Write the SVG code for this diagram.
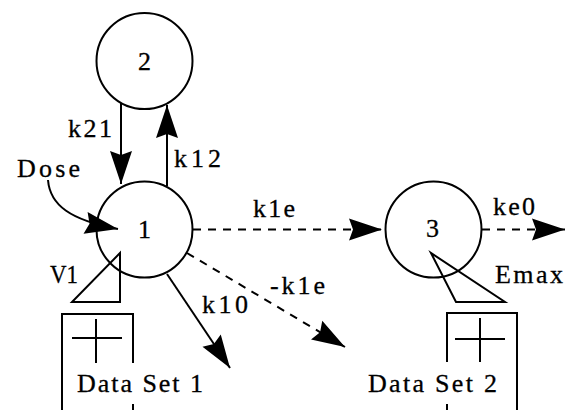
<svg xmlns="http://www.w3.org/2000/svg" width="566" height="410" viewBox="0 0 566 410">
  <style>
    .ln { fill: none; stroke: #000; stroke-width: 2; }
    .dash { stroke-dasharray: 8 7; }
    .node { fill: #fff; stroke: #000; stroke-width: 2; }
    text { font-family: "Liberation Serif", "Times New Roman", "DejaVu Serif", serif; font-size: 26px; fill: #000; stroke: #000; stroke-width: 0.3; }
    .num { text-anchor: middle; font-size: 26px; }
  </style>
  <defs>
    <marker id="ah" markerUnits="userSpaceOnUse" markerWidth="40" markerHeight="26" viewBox="-36 -13 38 26" refX="0" refY="0" orient="auto">
      <path d="M0,0 L-33,-11 L-29,0 L-33,11 Z" fill="#000" stroke="none"/>
    </marker>
  </defs>
  <rect width="566" height="410" fill="#fff"/>

  <g id="node2">
    <circle class="node" cx="144.5" cy="61" r="48"/>
    <text class="num" x="144.5" y="70">2</text>
  </g>
  <g id="node1">
    <circle class="node" cx="144.5" cy="229.5" r="48"/>
    <text class="num" x="144.5" y="238">1</text>
  </g>
  <g id="node3">
    <circle class="node" cx="433.5" cy="229.5" r="48"/>
    <text class="num" x="432.5" y="237">3</text>
  </g>

  <g id="v1">
    <path class="ln" d="M120,253 L120,302 L72,302 Z"/>
    <text x="50" y="283" textLength="28" lengthAdjust="spacingAndGlyphs">V1</text>
  </g>
  <g id="emax">
    <path class="ln" d="M431,253 L456,302 L505,302 Z"/>
    <text x="495" y="283" textLength="68" lengthAdjust="spacing">Emax</text>
  </g>

  <g id="dataset1">
    <path class="ln" d="M62,410 V314 H133 V363 M133,404 V410 M72,338 H122 M96,319 V363"/>
    <text x="77" y="392" textLength="126" lengthAdjust="spacing">Data Set 1</text>
  </g>
  <g id="dataset2">
    <path class="ln" d="M447,362 V313 H517 V410 M447,404 V410 M455,339 H505 M480,318 V362"/>
    <text x="368" y="392" textLength="129" lengthAdjust="spacing">Data Set 2</text>
  </g>

  <g id="connectors">
    <path class="ln" d="M121,103 L121,184" marker-end="url(#ah)"/>
    <path class="ln" d="M167,186 L167,105" marker-end="url(#ah)"/>
    <path class="ln" d="M48,180 C50,205 70,220 118,229" marker-end="url(#ah)"/>
    <path class="ln dash" d="M193,229.5 L382,229.5" marker-end="url(#ah)"/>
    <path class="ln dash" d="M482,229.5 L565,229.5" marker-end="url(#ah)"/>
    <path class="ln" d="M167,274 L230,368" marker-end="url(#ah)"/>
    <path class="ln dash" d="M187,253 L345,347" marker-end="url(#ah)"/>
  </g>

  <g id="labels">
    <text x="17" y="177" textLength="63" lengthAdjust="spacing">Dose</text>
    <text x="68" y="137" textLength="44" lengthAdjust="spacing">k21</text>
    <text x="174" y="167" textLength="47" lengthAdjust="spacing">k12</text>
    <text x="253" y="217" textLength="42" lengthAdjust="spacing">k1e</text>
    <text x="493" y="215" textLength="42" lengthAdjust="spacing">ke0</text>
    <text x="202" y="313" textLength="46" lengthAdjust="spacing">k10</text>
    <text x="270" y="294" textLength="55" lengthAdjust="spacing">-k1e</text>
  </g>
</svg>
